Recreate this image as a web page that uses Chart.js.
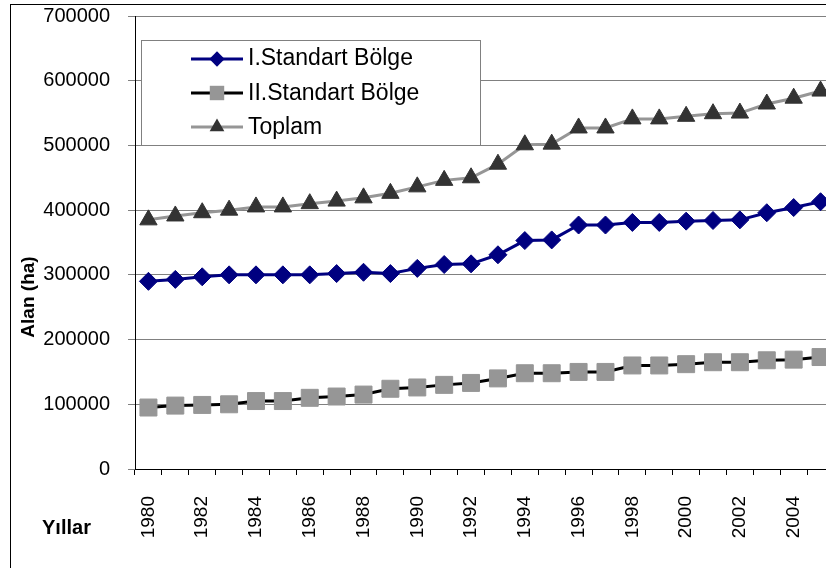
<!DOCTYPE html>
<html>
<head>
<meta charset="utf-8">
<script src="https://cdn.jsdelivr.net/npm/chart.js@4.4.0/dist/chart.umd.min.js"></script>
<style>
  html, body { margin: 0; padding: 0; background: #fff; overflow: hidden; }
  #wrap { width: 826px; height: 568px; overflow: hidden; }
</style>
</head>
<body>
<div id="wrap"><canvas id="myChart" width="850" height="568"></canvas></div>
<script>
"use strict";
const years = ["1980", "1981", "1982", "1983", "1984", "1985", "1986", "1987", "1988", "1989", "1990", "1991", "1992",
  "1993", "1994", "1995", "1996", "1997", "1998", "1999", "2000", "2001", "2002", "2003", "2004", "2005"];
const bolge1 = [290000, 293000, 297000, 300000, 300000, 300000, 300000, 302000, 304000, 302000, 310000, 316000, 317000,
  331000, 353000, 354000, 377000, 377000, 381000, 381000, 383000, 384000, 385000, 396000, 404000, 413000];
const bolge2 = [95000, 98000, 99000, 100000, 105000, 105000, 110000, 112000, 115000, 124000, 126000, 130000, 133000,
  140000, 148000, 148000, 150000, 150000, 160000, 160000, 162000, 165000, 165000, 168000, 169000, 173000];
const toplam = [385000, 391000, 396000, 400000, 405000, 405000, 410000, 414000, 419000, 426000, 436000, 446000, 450000,
  471000, 501000, 502000, 527000, 527000, 541000, 541000, 545000, 549000, 550000, 564000, 573000, 584000];
const seriesNames = ["I.Standart Bölge", "II.Standart Bölge", "Toplam"];
const yTicks = [0, 100000, 200000, 300000, 400000, 500000, 600000, 700000];

const FONT = "'Liberation Sans', Arial, sans-serif";
const ctx = document.getElementById("myChart");

// marker shapes for the hand drawn legend
function drawMarker(c, style, x, y, r, fill) {
  c.fillStyle = fill;
  c.beginPath();
  if (style === "rectRot") {
    c.moveTo(x, y - r); c.lineTo(x + r, y); c.lineTo(x, y + r); c.lineTo(x - r, y);
  } else if (style === "rect") {
    const s = Math.SQRT1_2 * r;
    c.rect(x - s, y - s, 2 * s, 2 * s);
  } else {
    c.moveTo(x, y - r);
    c.lineTo(x + r * Math.sin(Math.PI * 2 / 3), y - r * Math.cos(Math.PI * 2 / 3));
    c.lineTo(x + r * Math.sin(Math.PI * 4 / 3), y - r * Math.cos(Math.PI * 4 / 3));
  }
  c.closePath();
  c.fill();
}

const decorations = {
  id: "decorations",
  afterDraw(chart) {
    const c = chart.ctx;
    c.save();
    // chart area frame
    c.strokeStyle = "#000";
    c.lineWidth = 1;
    c.strokeRect(10.5, 4.5, 900, 700);

    // legend box
    c.fillStyle = "#fff";
    c.fillRect(141, 40, 339, 105);
    c.strokeStyle = "#808080";
    c.strokeRect(141.5, 40.5, 339, 105);
    const rows = [59, 93, 127];
    const baselines = [65, 99.5, 134];
    chart.data.datasets.forEach((ds, i) => {
      const y = rows[i];
      c.strokeStyle = ds.borderColor;
      c.lineWidth = ds.borderWidth;
      c.beginPath();
      c.moveTo(191, y);
      c.lineTo(243, y);
      c.stroke();
      drawMarker(c, ds.pointStyle, 217, y, ds.pointRadius * 0.85, ds.pointBackgroundColor);
      c.fillStyle = "#000";
      c.font = "23px " + FONT;
      c.textAlign = "left";
      c.textBaseline = "alphabetic";
      c.fillText(ds.label, 248, baselines[i]);
    });

    // axis titles
    c.fillStyle = "#000";
    c.font = "bold 20px " + FONT;
    c.textAlign = "left";
    c.textBaseline = "alphabetic";
    c.fillText("Yıllar", 42, 534);
    c.font = "bold 19px " + FONT;
    c.translate(34, 297);
    c.rotate(-Math.PI / 2);
    c.textAlign = "center";
    c.fillText("Alan (ha)", 0, 0);
    c.restore();
  }
};

const myChart = new Chart(ctx, {
  type: "line",
  data: {
    labels: years,
    datasets: [
      {
        label: seriesNames[0],
        data: bolge1,
        borderColor: "#000080",
        borderWidth: 3,
        pointStyle: "rectRot",
        pointRadius: 9,
        pointBackgroundColor: "#000080",
        pointBorderColor: "#000080",
        pointBorderWidth: 1,
      },
      {
        label: seriesNames[1],
        data: bolge2,
        borderColor: "#000000",
        borderWidth: 3,
        pointStyle: "rect",
        pointRadius: 12,
        pointBackgroundColor: "#969696",
        pointBorderColor: "#969696",
        pointBorderWidth: 1,
      },
      {
        label: seriesNames[2],
        data: toplam,
        borderColor: "#969696",
        borderWidth: 3,
        pointStyle: "triangle",
        pointRadius: 10,
        pointBackgroundColor: "#333333",
        pointBorderColor: "#333333",
        pointBorderWidth: 1,
      },
    ],
  },
  options: {
    responsive: false,
    animation: false,
    layout: { padding: { top: 16, right: 16, left: 0, bottom: 0 } },
    plugins: { legend: { display: false }, tooltip: { enabled: false } },
    elements: { line: { tension: 0 } },
    scales: {
      x: {
        offset: true,
        grid: { offset: true, drawOnChartArea: false, tickLength: 6, color: "#000" },
        border: { color: "#000", width: 1 },
        ticks: {
          autoSkip: false,
          maxRotation: 90,
          minRotation: 90,
          padding: 21,
          color: "#000",
          font: { family: FONT, size: 19 },
          callback: (v, i) => (i % 2 === 0 ? years[i] : ""),
        },
        afterFit: (scale) => {
          scale.height = 99;
          scale.paddingLeft = 0;
          scale.paddingRight = 0;
        },
      },
      y: {
        min: yTicks[0],
        max: yTicks[yTicks.length - 1],
        afterBuildTicks: (scale) => { scale.ticks = yTicks.map((v) => ({ value: v })); },
        grid: { color: "#808080", tickLength: 7, tickColor: "#808080" },
        border: { color: "#000", width: 1 },
        ticks: {
          padding: 18,
          color: "#000",
          font: { family: FONT, size: 20 },
          callback: (v) => String(v),
        },
        afterFit: (scale) => {
          scale.width = 135;
          scale.paddingTop = 0;
          scale.paddingBottom = 0;
        },
      },
    },
  },
  plugins: [decorations],
});
</script>
</body>
</html>
